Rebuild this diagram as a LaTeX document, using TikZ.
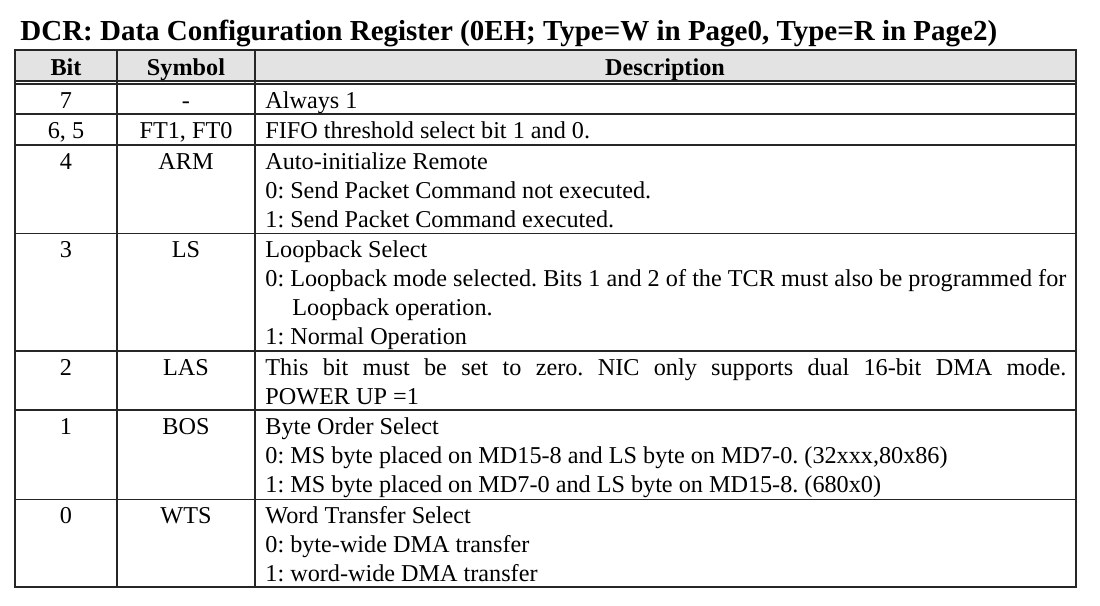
\documentclass[tikz,border=0pt]{standalone}
\usepackage{fontspec}
\setmainfont{Liberation Serif}
\usetikzlibrary{positioning}
\definecolor{headgray}{rgb}{0.89, 0.89, 0.89}
\definecolor{rulegray}{rgb}{0.15, 0.15, 0.15}
\frenchspacing

\tikzset{
  bodyfont/.style={font=\fontsize{12.1}{14.5}\selectfont},
  bitcell/.style={bodyfont, anchor=base, inner sep=0pt},
  desccell/.style={bodyfont, anchor=base west, inner sep=0pt},
  headcell/.style={font=\fontsize{12.1}{14.5}\selectfont\bfseries, anchor=base, inner sep=0pt},
  innerrule/.style={line width=0.6pt, color=rulegray},
  outerrule/.style={line width=0.85pt, color=rulegray},
}

\begin{document}
\begin{tikzpicture}[line cap=rect, x=0.5pt, y=-0.5pt]
					\useasboundingbox (0,0) rectangle (1100,606);
					\node[font=\fontsize{14.5}{17.4}\selectfont\bfseries, anchor=base west, inner sep=0pt] (title) at (20,40) {DCR: Data Configuration Register (0EH; Type=W in Page0, Type=R in Page2)};
					\fill [headgray] (15,50) rectangle (1076,81);
					\foreach \y in {114,145,233.5,351,410,499.5}
					\draw [innerrule] (15,\y) -- (1076,\y);
					\draw [innerrule] (15,81) -- (1076,81);
					\draw [innerrule] (15,84) -- (1076,84);
					\foreach \x in {117,255}
					\draw [innerrule] (\x,50) -- (\x,587);
					\draw [outerrule] (15,50) rectangle (1076,587);
					% header
					\node[headcell] (hbit) at (66,75) {Bit};
					\node[headcell] (hsym) at (186,75) {Symbol};
					\node[headcell] (hdesc) at (665,75) {Description};
					% bit 7
					\node[bitcell] (b7) at (66,108.5) {7};
					\node[bitcell] (s7) at (186,108.5) {-};
					\node[desccell] (d7) at (265,108.5) {Always 1};
					% bits 6, 5
					\node[bitcell] (b65) at (66,138.5) {6, 5};
					\node[bitcell] (s65) at (186,138.5) {FT1, FT0};
					\node[desccell] (d65) at (265,138.5) {FIFO threshold select bit 1 and 0.};
					% bit 4
					\node[bitcell] (b4) at (66,169) {4};
					\node[bitcell] (s4) at (186,169) {ARM};
					\node[desccell] (d4a) at (265,169) {Auto-initialize Remote};
					\node[desccell] (d4b) at (265,198) {0: Send Packet Command not executed.};
					\node[desccell] (d4c) at (265,227) {1: Send Packet Command executed.};
					% bit 3
					\node[bitcell] (b3) at (66,257.5) {3};
					\node[bitcell] (s3) at (186,257.5) {LS};
					\node[desccell] (d3a) at (265,257.5) {Loopback Select};
					\node[desccell] (d3b) at (265,286.5) {\makebox[400.5pt][s]{0: Loopback mode selected. Bits 1 and 2 of the TCR must also be programmed for}};
					\node[desccell] (d3c) at (292,315.5) {Loopback operation.};
					\node[desccell] (d3d) at (265,344.5) {1: Normal Operation};
					% bit 2
					\node[bitcell] (b2) at (66,375) {2};
					\node[bitcell] (s2) at (186,375) {LAS};
					\node[desccell] (d2a) at (265,375) {\makebox[400.5pt][s]{This bit must be set to zero. NIC only supports dual 16-bit DMA mode.}};
					\node[desccell] (d2b) at (265,404) {POWER UP =1};
					% bit 1
					\node[bitcell] (b1) at (66,434) {1};
					\node[bitcell] (s1) at (186,434) {BOS};
					\node[desccell] (d1a) at (265,434) {Byte Order Select};
					\node[desccell] (d1b) at (265,463) {0: MS byte placed on MD15-8 and LS byte on MD7-0. (32xxx,80x86)};
					\node[desccell] (d1c) at (265,492) {1: MS byte placed on MD7-0 and LS byte on MD15-8. (680x0)};
					% bit 0
					\node[bitcell] (b0) at (66,523.5) {0};
					\node[bitcell] (s0) at (186,523.5) {WTS};
					\node[desccell] (d0a) at (265,523.5) {Word Transfer Select};
					\node[desccell] (d0b) at (265,552.5) {0: byte-wide DMA transfer};
					\node[desccell] (d0c) at (265,581.5) {1: word-wide DMA transfer};
\end{tikzpicture}
\end{document}
